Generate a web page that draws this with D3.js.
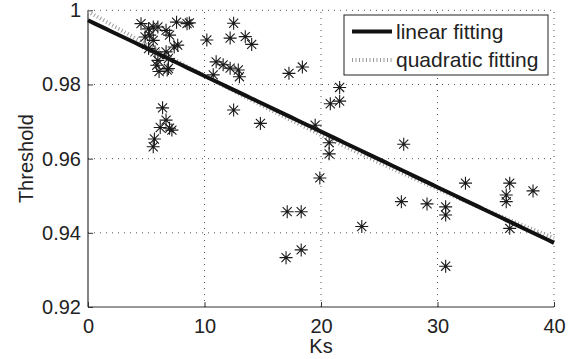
<!DOCTYPE html>
<html>
<head>
<meta charset="utf-8">
<script src="https://cdn.jsdelivr.net/npm/d3@7"></script>
<style>
  body { margin: 0; background: #fff; }
  text { font-family: 'Liberation Sans', Arial, sans-serif; fill: #222; }
</style>
</head>
<body>
<script>
// scatter data: Ks vs threshold
const ks = [4.55, 7.6, 8.5, 8.7, 5.2, 5.6, 6.0, 6.7, 4.9, 5.3, 5.6, 7.0, 7.7, 7.4, 5.2, 5.75, 6.7,
  5.9, 6.0, 6.9, 6.9, 6.1, 6.8,
  12.5, 10.2, 12.2, 13.5, 14.05, 11.0, 11.6, 12.2, 12.9, 13.0, 10.75, 12.5,
  6.4, 6.7, 6.2, 7.0, 7.2, 5.7, 5.6,
  14.8, 17.25, 18.4, 21.6, 21.6, 20.8, 19.5, 20.7, 20.7, 27.1, 19.9, 17.1, 18.3, 17.0, 18.3, 23.5,
  26.9, 29.1, 30.7, 30.7, 30.7, 32.4, 36.2, 35.9, 35.9, 38.2, 36.2];
const threshold = [0.9964, 0.9968, 0.9964, 0.9966, 0.995, 0.9955, 0.9955, 0.9946, 0.9928, 0.9933, 0.9919, 0.9933, 0.9906, 0.9901, 0.9897, 0.9888, 0.9888,
  0.9852, 0.9865, 0.9843, 0.987, 0.9835, 0.9839,
  0.9965, 0.992, 0.9925, 0.9929, 0.9908, 0.9861, 0.9853, 0.9844, 0.9839, 0.9821, 0.9826, 0.9731,
  0.9737, 0.9704, 0.9684, 0.9682, 0.9677, 0.9653, 0.9632,
  0.9695, 0.983, 0.9847, 0.9792, 0.9755, 0.9748, 0.969, 0.9643, 0.9613, 0.9639, 0.9548, 0.9457, 0.9457, 0.9333, 0.9354, 0.9417,
  0.9484, 0.9478, 0.947, 0.9448, 0.931, 0.9534, 0.9534, 0.9502, 0.9484, 0.9513, 0.9412];

// fitted coefficients (constant, x, x^2)
const linearFit = [0.9973, -0.0015];
const quadFit = [0.9997, -0.0018025, 0.000006875];

const xTicks = [0, 10, 20, 30, 40];
const yTicks = [0.92, 0.94, 0.96, 0.98, 1];
const legendLabels = ['linear fitting', 'quadratic fitting'];

const width = 583, height = 359;
const margin = {top: 10.3, right: 29, bottom: 52, left: 88};

const svg = d3.select('body').append('svg')
  .attr('width', width)
  .attr('height', height);

const x = d3.scaleLinear().domain([0, 40]).range([margin.left, width - margin.right]);
const y = d3.scaleLinear().domain([0.92, 1]).range([height - margin.bottom, margin.top]);

// dotted grid
const grid = svg.append('g')
  .attr('stroke', '#555')
  .attr('stroke-width', 1)
  .attr('stroke-dasharray', '1,5');
grid.selectAll('.gx').data(xTicks.slice(1)).join('line')
  .attr('x1', d => x(d)).attr('x2', d => x(d))
  .attr('y1', y(0.92)).attr('y2', y(1));
grid.selectAll('.gy').data(yTicks.slice(1)).join('line')
  .attr('x1', x(0)).attr('x2', x(40))
  .attr('y1', d => y(d)).attr('y2', d => y(d));

// axes
const xAxis = d3.axisBottom(x).tickValues(xTicks).tickSize(-5).tickPadding(12).tickFormat(d3.format('d'));
const yAxis = d3.axisLeft(y).tickValues(yTicks).tickSize(-5).tickPadding(7).tickFormat(d => d === 1 ? '1' : d3.format('.2f')(d));

const gx = svg.append('g').attr('transform', `translate(0,${y(0.92)})`).call(xAxis);
const gy = svg.append('g').attr('transform', `translate(${x(0)},0)`).call(yAxis);
[gx, gy].forEach(g => {
  g.select('.domain').attr('stroke', '#333').attr('stroke-width', 1.2);
  g.selectAll('.tick line').attr('stroke', '#333');
  g.selectAll('.tick text').attr('font-size', 20).attr('fill', '#222')
    .style('font-family', "'Liberation Sans', Arial, sans-serif");
});
gy.select('.domain').attr('d', `M0,${y(0.92)}V${y(1)}`);
gx.select('.domain').attr('d', `M${x(0)},0H${x(40)}`);

// fitted lines
const xs = d3.range(0, 40.01, 0.5);
const line = d3.line().x(d => x(d[0])).y(d => y(d[1]));

svg.append('path')
  .datum(xs.map(v => [v, quadFit[0] + quadFit[1] * v + quadFit[2] * v * v]))
  .attr('d', line)
  .attr('fill', 'none')
  .attr('stroke', '#9a9a9a')
  .attr('stroke-width', 4)
  .attr('stroke-dasharray', '1,2.5');

svg.append('path')
  .datum(xs.map(v => [v, linearFit[0] + linearFit[1] * v]))
  .attr('d', line)
  .attr('fill', 'none')
  .attr('stroke', '#111')
  .attr('stroke-width', 4);

// asterisk markers
const r = 6.5;
const star = `M${-r},0H${r}M0,${-r}V${r}M${-r * 0.7},${-r * 0.7}L${r * 0.7},${r * 0.7}M${-r * 0.7},${r * 0.7}L${r * 0.7},${-r * 0.7}`;
svg.append('g').selectAll('path')
  .data(ks.map((k, i) => [k, threshold[i]]))
  .join('path')
  .attr('transform', d => `translate(${x(d[0])},${y(d[1])})`)
  .attr('d', star)
  .attr('fill', 'none')
  .attr('stroke', '#1a1a1a')
  .attr('stroke-width', 1.1);

// axis labels
svg.append('text')
  .attr('x', x(20)).attr('y', 353)
  .attr('text-anchor', 'middle')
  .attr('font-size', 20)
  .text('Ks');

svg.append('text')
  .attr('transform', `translate(33,${(y(0.92) + y(1)) / 2}) rotate(-90)`)
  .attr('text-anchor', 'middle')
  .attr('font-size', 20)
  .text('Threshold');

// legend
const legend = svg.append('g').attr('transform', 'translate(344,15)');
legend.append('rect')
  .attr('width', 204).attr('height', 60)
  .attr('fill', '#fff').attr('stroke', '#222').attr('stroke-width', 1);
legend.append('line')
  .attr('x1', 8).attr('x2', 48).attr('y1', 16.5).attr('y2', 16.5)
  .attr('stroke', '#111').attr('stroke-width', 4);
legend.append('line')
  .attr('x1', 8).attr('x2', 48).attr('y1', 45).attr('y2', 45)
  .attr('stroke', '#9a9a9a').attr('stroke-width', 4).attr('stroke-dasharray', '1,2.5');
legend.selectAll('text').data(legendLabels).join('text')
  .attr('x', 52).attr('y', (d, i) => 23.5 + i * 28.5)
  .attr('font-size', 21)
  .text(d => d);
</script>
</body>
</html>
